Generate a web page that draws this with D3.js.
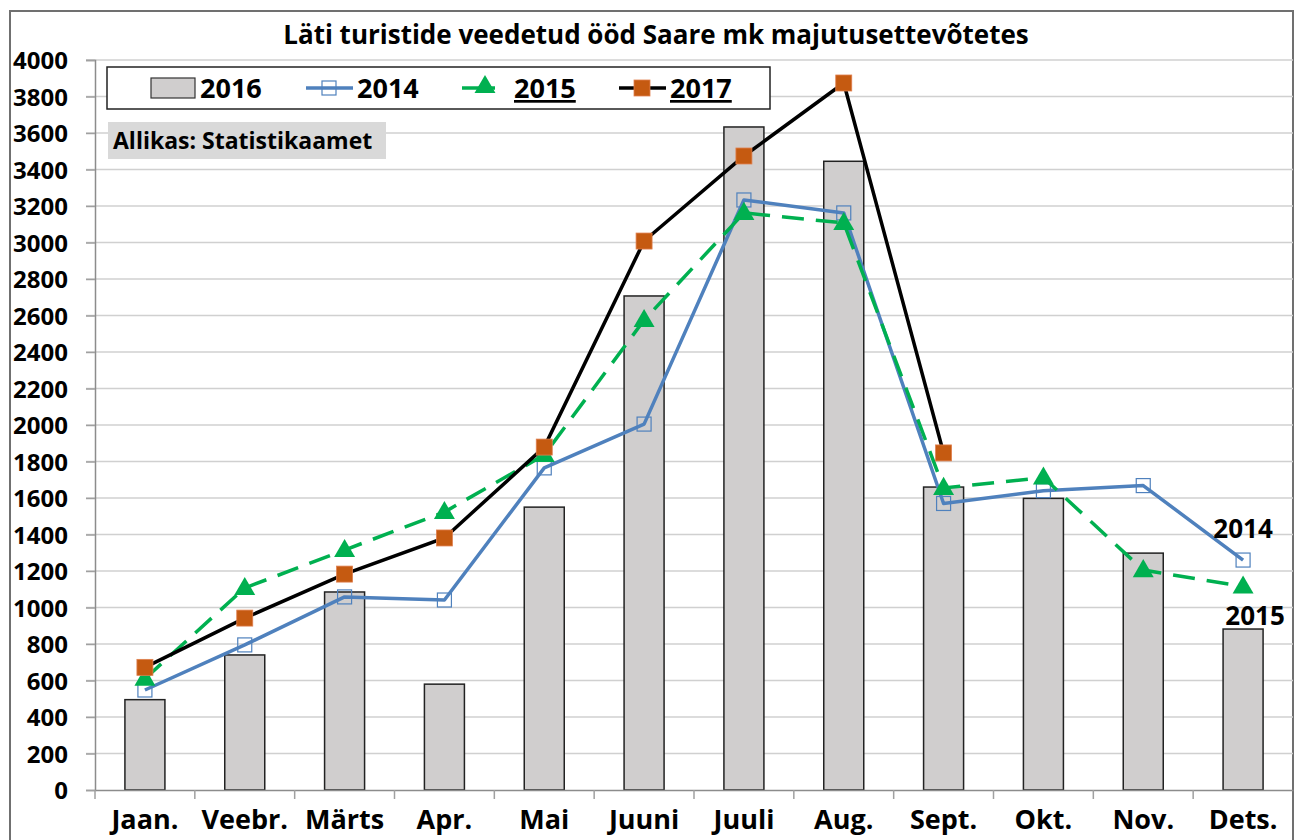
<!DOCTYPE html>
<html>
<head>
<meta charset="utf-8">
<script src="https://cdn.jsdelivr.net/npm/d3@7"></script>
<style>
  body { margin: 0; background: #fff; }
  svg text { font-family: "Open Sans", sans-serif; font-weight: bold; fill: #000; }
</style>
</head>
<body>
<div id="chart"></div>
<script>
const months = ['Jaan.', 'Veebr.', 'Märts', 'Apr.', 'Mai', 'Juuni', 'Juuli', 'Aug.', 'Sept.', 'Okt.', 'Nov.', 'Dets.'];
const values2016 = [495, 740, 1085, 580, 1550, 2707, 3633, 3445, 1660, 1598, 1298, 882];
const values2014 = [548, 795, 1058, 1041, 1765, 2005, 3233, 3162, 1570, 1640, 1668, 1260];
const values2015 = [610, 1107, 1315, 1523, 1836, 2575, 3162, 3107, 1655, 1712, 1205, 1115];
const values2017 = [672, 942, 1183, 1381, 1879, 3008, 3474, 3874, 1847];
const yTicks = d3.range(0, 4001, 200);

const W = 1296, H = 840;
const margin = { left: 95, right: 3, top: 60, bottom: 50 };
const FONT = '"Open Sans", sans-serif';

const svg = d3.select('#chart').append('svg')
  .attr('width', W)
  .attr('height', H);

svg.append('rect')
  .attr('width', W).attr('height', H)
  .attr('fill', '#fff');

// outer chart border
svg.append('rect')
  .attr('x', 10).attr('y', 11)
  .attr('width', 1283).attr('height', 840)
  .attr('fill', 'none')
  .attr('stroke', '#707070')
  .attr('stroke-width', 2);

const x = d3.scaleBand()
  .domain(months)
  .range([margin.left, W - margin.right]);

const y = d3.scaleLinear()
  .domain([0, 4000])
  .range([H - margin.bottom, margin.top]);

// gridlines
svg.append('g')
  .selectAll('line')
  .data(yTicks.filter(d => d > 0))
  .join('line')
  .attr('x1', margin.left - 9)
  .attr('x2', W - margin.right)
  .attr('y1', d => y(d))
  .attr('y2', d => y(d))
  .attr('stroke', '#d0d0d0')
  .attr('stroke-width', 1.5);

// y axis
const yAxis = svg.append('g')
  .attr('transform', `translate(${margin.left},0)`)
  .call(d3.axisLeft(y).tickValues(yTicks).tickFormat(d3.format('d')).tickSize(9).tickPadding(18));
yAxis.select('.domain').attr('stroke', '#8c8c8c').attr('stroke-width', 1.5);
yAxis.selectAll('.tick line').attr('stroke', '#a0a0a0').attr('stroke-width', 1.5);
yAxis.selectAll('.tick text')
  .style('font-size', '24px')
  .style('font-family', FONT)
  .style('font-weight', 'bold')
  .attr('dy', '0.36em')
  .attr('fill', '#000');

// bars (2016)
const barW = 40;
svg.append('g')
  .selectAll('rect')
  .data(values2016)
  .join('rect')
  .attr('x', (d, i) => x(months[i]) + x.bandwidth() / 2 - barW / 2)
  .attr('y', d => y(d))
  .attr('width', barW)
  .attr('height', d => y(0) - y(d))
  .attr('fill', '#d0cece')
  .attr('stroke', '#222')
  .attr('stroke-width', 1.5);

// x axis
const xAxis = svg.append('g')
  .attr('transform', `translate(0,${y(0)})`)
  .call(d3.axisBottom(x).tickSize(0).tickPadding(20));
xAxis.select('.domain').attr('stroke', '#8c8c8c').attr('stroke-width', 1.5);
xAxis.selectAll('.tick text')
  .style('font-size', '27px')
  .style('font-family', FONT)
  .style('font-weight', 'bold')
  .attr('fill', '#000');
xAxis.append('g')
  .selectAll('line')
  .data(months)
  .join('line')
  .attr('x1', d => x(d))
  .attr('x2', d => x(d))
  .attr('y1', 0)
  .attr('y2', 9)
  .attr('stroke', '#a0a0a0')
  .attr('stroke-width', 1.5);

const cx = i => x(months[i]) + x.bandwidth() / 2;
const line = d3.line().x((d, i) => cx(i)).y(d => y(d));

// 2014 series
svg.append('path')
  .datum(values2014)
  .attr('d', line)
  .attr('fill', 'none')
  .attr('stroke', '#4f81bd')
  .attr('stroke-width', 3.5)
  .attr('stroke-linejoin', 'round');

svg.append('g')
  .selectAll('rect')
  .data(values2014)
  .join('rect')
  .attr('x', (d, i) => cx(i) - 7)
  .attr('y', d => y(d) - 7)
  .attr('width', 14)
  .attr('height', 14)
  .attr('fill', 'none')
  .attr('stroke', '#4f81bd')
  .attr('stroke-width', 1.2);

// 2015 series
svg.append('path')
  .datum(values2015)
  .attr('d', line)
  .attr('fill', 'none')
  .attr('stroke', '#00b050')
  .attr('stroke-width', 3.5)
  .attr('stroke-dasharray', '22,12');

const tri = d3.symbol().type(d3.symbolTriangle).size(190);
svg.append('g')
  .selectAll('path')
  .data(values2015)
  .join('path')
  .attr('d', tri)
  .attr('transform', (d, i) => `translate(${cx(i)},${y(d) + 1})`)
  .attr('fill', '#00b050');

// 2017 series
svg.append('path')
  .datum(values2017)
  .attr('d', line)
  .attr('fill', 'none')
  .attr('stroke', '#000')
  .attr('stroke-width', 3.5);

svg.append('g')
  .selectAll('rect')
  .data(values2017)
  .join('rect')
  .attr('x', (d, i) => cx(i) - 8)
  .attr('y', d => y(d) - 8)
  .attr('width', 16)
  .attr('height', 16)
  .attr('fill', '#c55a11')
  .attr('stroke', '#e08050')
  .attr('stroke-width', 0.8);

// end labels
svg.append('text')
  .attr('x', cx(11))
  .attr('y', y(values2014[11]) - 22)
  .attr('text-anchor', 'middle')
  .style('font-size', '26px')
  .text('2014');
svg.append('text')
  .attr('x', cx(11) + 12)
  .attr('y', y(values2015[11]) + 38)
  .attr('text-anchor', 'middle')
  .style('font-size', '26px')
  .text('2015');

// title
svg.append('text')
  .attr('x', 656)
  .attr('y', 44)
  .attr('text-anchor', 'middle')
  .style('font-size', '26px')
  .text('Läti turistide veedetud ööd Saare mk majutusettevõtetes');

// legend
const legend = svg.append('g');
legend.append('rect')
  .attr('x', 107).attr('y', 67)
  .attr('width', 663).attr('height', 42)
  .attr('fill', '#fff')
  .attr('stroke', '#222')
  .attr('stroke-width', 1.5);

const ly = 88;
legend.append('rect')
  .attr('x', 151).attr('y', ly - 10)
  .attr('width', 44).attr('height', 20)
  .attr('fill', '#d0cece').attr('stroke', '#333').attr('stroke-width', 1.2);
legend.append('text').attr('x', 200).attr('y', ly + 10).style('font-size', '27px').text('2016');

legend.append('line')
  .attr('x1', 306).attr('x2', 353).attr('y1', ly).attr('y2', ly)
  .attr('stroke', '#4f81bd').attr('stroke-width', 3.5);
legend.append('rect')
  .attr('x', 322).attr('y', ly - 7).attr('width', 14).attr('height', 14)
  .attr('fill', 'none').attr('stroke', '#4f81bd').attr('stroke-width', 1.2);
legend.append('text').attr('x', 357).attr('y', ly + 10).style('font-size', '27px').text('2014');

legend.append('line')
  .attr('x1', 462).attr('x2', 495).attr('y1', ly).attr('y2', ly)
  .attr('stroke', '#00b050').attr('stroke-width', 3.5);
legend.append('path')
  .attr('d', tri)
  .attr('transform', `translate(485,${ly - 1})`)
  .attr('fill', '#00b050');
legend.append('text').attr('x', 514).attr('y', ly + 10).style('font-size', '27px')
  .style('text-decoration', 'underline').text('2015');

legend.append('line')
  .attr('x1', 619).attr('x2', 666).attr('y1', ly).attr('y2', ly)
  .attr('stroke', '#000').attr('stroke-width', 3.5);
legend.append('rect')
  .attr('x', 634).attr('y', ly - 8).attr('width', 16).attr('height', 16)
  .attr('fill', '#c55a11').attr('stroke', '#e08050').attr('stroke-width', 0.8);
legend.append('text').attr('x', 670).attr('y', ly + 10).style('font-size', '27px')
  .style('text-decoration', 'underline').text('2017');

// source box
svg.append('rect')
  .attr('x', 108).attr('y', 122)
  .attr('width', 278).attr('height', 37)
  .attr('fill', '#d9d9d9');
svg.append('text')
  .attr('x', 113).attr('y', 149)
  .style('font-size', '23px')
  .text('Allikas: Statistikaamet');
</script>
</body>
</html>
